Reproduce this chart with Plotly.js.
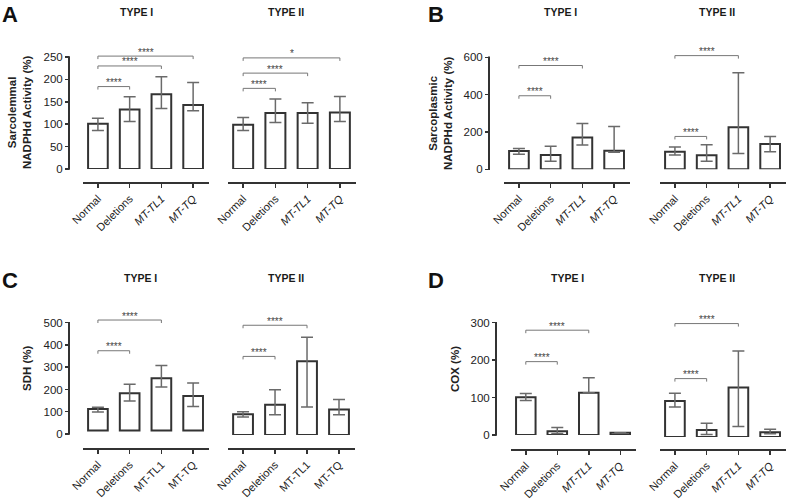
<!DOCTYPE html>
<html>
<head>
<meta charset="utf-8">
<script src="https://cdn.plot.ly/plotly-3.0.1.min.js"></script>
<style>
  html, body { margin: 0; padding: 0; background: #fff; }
  #chart { width: 787px; height: 501px; }
</style>
</head>
<body>
<div id="chart"></div>
<script>
// Values: bar height, top and bottom of the whisker (%)
const groups = ['Normal', 'Deletions', 'MT-TL1', 'MT-TQ'];

// A - sarcolemmal NADPHd activity
const aTicks = [0, 50, 100, 150, 200, 250];
const aType1 = [101, 133, 167, 143];
const aType1Hi = [113, 161, 206, 193];
const aType1Lo = [86, 106, 135, 130];
const aType2 = [99, 125, 125, 126];
const aType2Hi = [115, 156, 148, 162];
const aType2Lo = [86, 104, 102, 106];
// [from group, to group, bracket height, label]
const aType1Sig = [[0, 1, 184, '****'], [0, 2, 230, '****'], [0, 3, 252, '****']];
const aType2Sig = [[0, 1, 180, '****'], [0, 2, 214, '****'], [0, 3, 248, '*']];

// B - sarcoplasmic NADPHd activity
const bTicks = [0, 200, 400, 600];
const bType1 = [98, 76, 171, 100];
const bType1Hi = [112, 123, 246, 229];
const bType1Lo = [80, 43, 130, 91];
const bType2 = [94, 75, 225, 135];
const bType2Hi = [119, 132, 517, 176];
const bType2Lo = [76, 43, 85, 94];
const bType1Sig = [[0, 1, 394, '****'], [0, 2, 556, '****']];
const bType2Sig = [[0, 1, 176, '****'], [0, 2, 609, '****']];

// C - SDH
const cTicks = [0, 100, 200, 300, 400, 500];
const cType1 = [112, 183, 250, 171];
const cType1Hi = [120, 223, 308, 229];
const cType1Lo = [99, 148, 211, 123];
const cType2 = [93, 136, 331, 115];
const cType2Hi = [105, 203, 439, 160];
const cType2Lo = [81, 91, 126, 91];
const cType1Sig = [[0, 1, 374, '****'], [0, 2, 512, '****']];
const cType2Sig = [[0, 1, 353, '****'], [0, 2, 493, '****']];

// D - COX
const dTicks = [0, 100, 200, 300];
const dType1 = [101, 10, 113, 6];
const dType1Hi = [111, 20, 153, 6];
const dType1Lo = [92, 4, 113, 6];
const dType2 = [96, 19, 132, 13];
const dType2Hi = [117, 37, 230, 21];
const dType2Lo = [80, 7, 28, 9];
const dType1Sig = [[0, 1, 196, '****'], [0, 2, 280, '****']];
const dType2Sig = [[0, 1, 156, '****'], [0, 2, 303, '****']];

const FONT = "'Liberation Sans', Arial, sans-serif";
const W = 787, H = 501;
const fx = p => p / W;       // pixel -> paper x
const fy = p => 1 - p / H;   // pixel -> paper y

const panels = [
    {
        letter: 'A', letterPos: [0, 0], yTitle: ['Sarcolemmal', 'NADPHd Activity (%)'], yTitlePos: [20, 113],
        ticks: aTicks, top: 262, yAxisX: 69, zeroY: 169, maxY: 57, axisY: 183, italic: true,
        subs: [
            { title: 'TYPE I', titleX: 136, x0: 83, x1: 209, mean: aType1, hi: aType1Hi, lo: aType1Lo, sig: aType1Sig },
            { title: 'TYPE II', titleX: 286, x0: 228, x1: 356, mean: aType2, hi: aType2Hi, lo: aType2Lo, sig: aType2Sig }
        ],
        titleY: 12
    },
    {
        letter: 'B', letterPos: [426, 0], yTitle: ['Sarcoplasmic', 'NADPHd Activity (%)'], yTitlePos: [440, 114],
        ticks: bTicks, top: 622, yAxisX: 489, zeroY: 169.3, maxY: 57.3, axisY: 183, italic: true,
        subs: [
            { title: 'TYPE I', titleX: 560, x0: 504, x1: 630, mean: bType1, hi: bType1Hi, lo: bType1Lo, sig: bType1Sig },
            { title: 'TYPE II', titleX: 717, x0: 660, x1: 786, mean: bType2, hi: bType2Hi, lo: bType2Lo, sig: bType2Sig }
        ],
        titleY: 12
    },
    {
        letter: 'C', letterPos: [0, 266], yTitle: ['SDH (%)'], yTitlePos: [27, 368],
        ticks: cTicks, top: 520, yAxisX: 69, zeroY: 434, maxY: 322.7, axisY: 449, italic: false,
        subs: [
            { title: 'TYPE I', titleX: 140, x0: 83, x1: 209, base: 16, mean: cType1, hi: cType1Hi, lo: cType1Lo, sig: cType1Sig },
            { title: 'TYPE II', titleX: 286, x0: 228, x1: 355, zeroY: 435, mean: cType2, hi: cType2Hi, lo: cType2Lo, sig: cType2Sig }
        ],
        titleY: 278
    },
    {
        letter: 'D', letterPos: [426, 266], yTitle: ['COX (%)'], yTitlePos: [455, 369],
        ticks: dTicks, top: 312, yAxisX: 496, zeroY: 435, maxY: 322.7, axisY: 450, italic: true,
        subs: [
            { title: 'TYPE I', titleX: 567, x0: 511, x1: 636, mean: dType1, hi: dType1Hi, lo: dType1Lo, sig: dType1Sig },
            { title: 'TYPE II', titleX: 717, x0: 660, x1: 786, zeroY: 437, mean: dType2, hi: dType2Hi, lo: dType2Lo, sig: dType2Sig }
        ],
        titleY: 278
    }
];

const traces = [];
const shapes = [];
const annotations = [];
const layout = {
    width: W,
    height: H,
    margin: { l: 0, r: 0, t: 0, b: 0 },
    paper_bgcolor: '#fff',
    plot_bgcolor: 'rgba(0,0,0,0)',
    showlegend: false,
    font: { family: FONT, color: '#222' }
};

let n = 0;
panels.forEach(p => {
    const maxTick = p.ticks[p.ticks.length - 1];
    const scale = (p.zeroY - p.maxY) / maxTick;   // px per unit

    // panel letter
    annotations.push({
        xref: 'paper', yref: 'paper', x: fx(p.letterPos[0]), y: fy(p.letterPos[1]),
        xanchor: 'left', yanchor: 'top', showarrow: false,
        text: '<b>' + p.letter + '</b>', font: { size: 22, color: '#111' }
    });

    // y axis title
    annotations.push({
        xref: 'paper', yref: 'paper', x: fx(p.yTitlePos[0]), y: fy(p.yTitlePos[1]),
        xanchor: 'center', yanchor: 'middle', showarrow: false, textangle: -90,
        text: p.yTitle.map(t => '<b>' + t + '</b>').join('<br>'),
        font: { size: 11.5, color: '#222' }
    });

    // y axis line: only from 0 up to the top tick
    shapes.push({
        type: 'line', xref: 'paper', yref: 'paper',
        x0: fx(p.yAxisX), x1: fx(p.yAxisX), y0: fy(p.zeroY + 0.8), y1: fy(p.maxY - 0.8),
        line: { color: '#333', width: 2 }
    });

    const tickText = groups.map(g => (p.italic && g.startsWith('MT')) ? '<i>' + g + '</i>' : g);

    p.subs.forEach((s, k) => {
        n += 1;
        const xa = n === 1 ? 'x' : 'x' + n;
        const ya = n === 1 ? 'y' : 'y' + n;
        const zero = s.zeroY || p.zeroY;
        const topPx = zero - p.top * scale;
        const base = s.base || 0;

        traces.push({
            type: 'bar',
            xaxis: xa,
            yaxis: ya,
            x: groups,
            y: s.mean.map(v => v - base),
            base: base,
            width: 0.62,
            marker: { color: '#fff', line: { color: '#333', width: 2 } },
            error_y: {
                type: 'data',
                symmetric: false,
                array: s.hi.map((v, i) => v - s.mean[i]),
                arrayminus: s.mean.map((v, i) => v - s.lo[i]),
                color: '#6a6a6a',
                thickness: 1.5,
                width: 6
            },
            hoverinfo: 'skip'
        });

        layout['xaxis' + (n === 1 ? '' : n)] = {
            domain: [fx(s.x0), fx(s.x1)],
            anchor: 'free',
            position: fy(p.axisY),
            type: 'category',
            range: [-0.47, 3.5],
            tickmode: 'array',
            tickvals: groups,
            ticktext: tickText,
            tickangle: -45,
            tickfont: { size: 11, color: '#222' },
            showline: true,
            linecolor: '#333',
            linewidth: 2,
            ticks: 'outside',
            ticklen: 4,
            tickwidth: 1.5,
            tickcolor: '#333',
            showgrid: false,
            zeroline: false,
            fixedrange: true
        };

        layout['yaxis' + (n === 1 ? '' : n)] = {
            domain: [fy(zero), fy(topPx)],
            range: [0, p.top],
            anchor: 'free',
            position: fx(p.yAxisX),
            visible: k === 0,
            tickmode: 'array',
            tickvals: p.ticks,
            tickfont: { size: 11.5, color: '#222' },
            ticks: 'outside',
            ticklen: 4,
            tickwidth: 1.5,
            tickcolor: '#333',
            showline: false,
            showgrid: false,
            zeroline: false,
            fixedrange: true
        };

        // subplot title
        annotations.push({
            xref: 'paper', yref: 'paper', x: fx(s.titleX), y: fy(p.titleY),
            xanchor: 'center', yanchor: 'middle', showarrow: false,
            text: '<b>' + s.title + '</b>', font: { size: 10.5, color: '#1a1a1a' }
        });

        // significance brackets
        s.sig.forEach(([a, b, h, label]) => {
            shapes.push({
                type: 'line', xref: xa, yref: ya, x0: a, x1: b, y0: h, y1: h,
                line: { color: '#777', width: 1 }
            });
            [a, b].forEach(e => shapes.push({
                type: 'line', xref: xa, yref: ya, x0: e, x1: e,
                ysizemode: 'pixel', yanchor: h, y0: -3, y1: 0,
                line: { color: '#777', width: 1 }
            }));
            annotations.push({
                xref: xa, yref: ya, x: (a + b) / 2, y: h,
                xanchor: 'center', yanchor: 'middle', yshift: 4, showarrow: false,
                text: label, font: { size: 10, color: '#444' }
            });
        });
    });
});

layout.shapes = shapes;
layout.annotations = annotations;

Plotly.newPlot('chart', traces, layout, { displayModeBar: false, staticPlot: true });
</script>
</body>
</html>
